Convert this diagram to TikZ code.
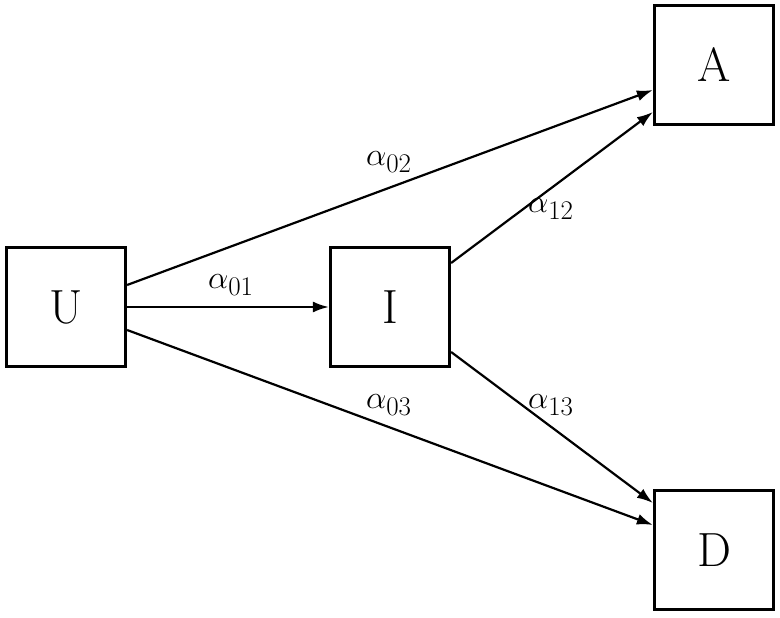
\documentclass[tikz,border=0pt]{standalone}
\usetikzlibrary{arrows.meta}
\newcommand{\rlabel}[1]{\scalebox{1.3}{\Huge$\alpha_{#1}$}}
\begin{document}
\begin{tikzpicture}[x=1pt,y=-1pt,
  statebox/.style={draw, line width=3.2pt, minimum size=119pt, inner sep=0pt, font=\fontsize{48}{56}\selectfont},
  trans/.style={line width=2.2pt, -{Latex[length=16pt,width=11pt]}},
  lab/.style={inner sep=0pt}]
\useasboundingbox (0,0) rectangle (780,618);
\fill[white] (0,0) rectangle (780,618);
\node[statebox] (U) at (66,307) {U};
\node[statebox] (I) at (390,307) {I};
\node[statebox] (A) at (714,65) {A};
\node[statebox] (D) at (714,550) {D};
\draw[trans] (U.east) -- (I.west);
\draw[trans] ([yshift=22pt]U.east) -- ([yshift=-25pt]A.west);
\draw[trans] ([yshift=-23pt]U.east) -- ([yshift=25pt]D.west);
\draw[trans] ([yshift=44pt]I.east) -- ([yshift=-47pt]A.west);
\draw[trans] ([yshift=-45pt]I.east) -- ([yshift=47pt]D.west);
\node[lab] (l01) at (231,285) {\rlabel{01}};
\node[lab] (l02) at (389,162) {\rlabel{02}};
\node[lab] (l03) at (389,405) {\rlabel{03}};
\node[lab] (l12) at (551,209) {\rlabel{12}};
\node[lab] (l13) at (551,405) {\rlabel{13}};
\end{tikzpicture}
\end{document}
